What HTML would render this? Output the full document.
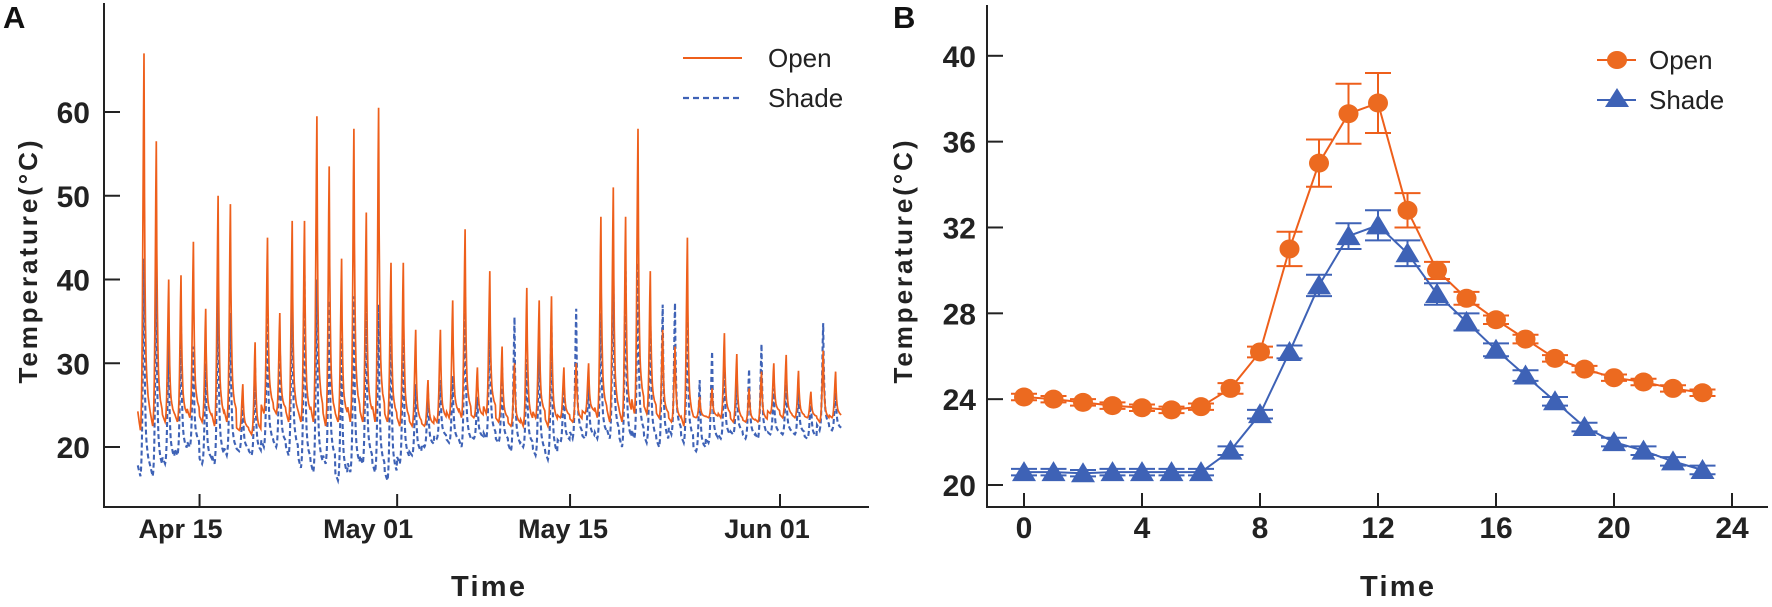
<!DOCTYPE html>
<html><head><meta charset="utf-8"><style>
html,body{margin:0;padding:0;background:#fff;}
svg{display:block;font-family:"Liberation Sans",sans-serif;}
</style></head><body>
<svg id="fig" width="1772" height="607" viewBox="0 0 1772 607" xmlns="http://www.w3.org/2000/svg">
<g id="panelA"></g>
<g id="panelB"></g>
</svg>
<script>
// ---------- Panel A data (daily extremes starting Apr 10) ----------
const aTickLabels = ["Apr 15","May 01","May 15","Jun 01"];
const aTickDays = [5,21,35,52];
const aYTicks = [20,30,40,50,60];
const openMax = [67,56.5,40,40.5,44.5,36.5,50,49,27.5,32.5,45,36,47,47,59.5,53.5,42.5,58,48,60.5,42,42,34,28,34,37.5,46,29.5,41,32,30,39,37.5,38,29.5,30,30,47.5,51,47.5,58,41,34,32,45,26,27,33.6,31.1,27,29,30,31,29.1,26.6,31.5,29];
const openMin = [22,22.5,23,23,23.5,23,22.5,23,22,21.5,24,24,23,23,23,22.5,23,23,23,23,23,22.5,22.5,22.5,23,23.5,23.5,23.5,24,23,22.5,22.5,23.5,22.5,23.5,23,24,23.5,23,23,24,24,23.5,23,22.5,23.5,23.5,23.5,23,23,23,24,23.5,23.5,23.5,23,23.5];
const shadeMax = [42.5,41.5,33,34.5,32,30,39,36,25.5,29.5,36,33,39.5,40.5,40,37.5,33,38,37,37,36,34,27.5,26.5,28,28.5,38,26,35,29.5,35.5,30.5,33,34.5,27.5,36.5,28,36,42,41,42,36.5,37,37.2,36.5,28,31.4,30,28.5,29.3,32.3,27,28,27,26,34.8,27];
const shadeMin = [16.5,16.5,18,19,20,18,18,19,19.5,19,20,20,19,17.5,17,18,16,17,18,17,16,18,19,20,21,20.5,20,21,21,20.5,19.5,20,19,18.5,20.5,21,21,21,21,20,21,20.5,20,21.5,20.5,19.5,20.5,21,21.5,21,21,21.5,21.5,21.5,21,22,22];

// ---------- Panel B data ----------
const bHours = [0,1,2,3,4,5,6,7,8,9,10,11,12,13,14,15,16,17,18,19,20,21,22,23];
const bOpen = [24.1,24.0,23.85,23.7,23.6,23.5,23.65,24.5,26.2,31.0,35.0,37.3,37.8,32.8,30.0,28.7,27.7,26.8,25.9,25.4,25.0,24.8,24.5,24.3];
const bOpenErr = [0.15,0.15,0.15,0.15,0.15,0.15,0.15,0.25,0.25,0.8,1.1,1.4,1.4,0.8,0.4,0.3,0.2,0.2,0.15,0.15,0.15,0.15,0.15,0.15];
const bShade = [20.6,20.6,20.55,20.6,20.6,20.6,20.6,21.6,23.3,26.2,29.3,31.6,32.1,30.8,28.9,27.6,26.3,25.1,23.9,22.7,22.0,21.6,21.1,20.7];
const bShadeErr = [0.15,0.15,0.15,0.15,0.15,0.15,0.15,0.2,0.2,0.3,0.5,0.6,0.7,0.6,0.5,0.4,0.3,0.25,0.2,0.2,0.2,0.2,0.2,0.2];
const bXTicks = [0,4,8,12,16,20,24];
const bYTicks = [20,24,28,32,36,40];

const NS="http://www.w3.org/2000/svg";
function mk(tag, attrs, parent){const e=document.createElementNS(NS,tag);for(const k in attrs)e.setAttribute(k,attrs[k]);parent.appendChild(e);return e;}
const ORANGE="#EE5F1B", BLUE="#3E62B6";
const labelShift=[-19,-29,-7,-13];

// ===== Panel A =====
const A=document.getElementById('panelA');
const xA=d=>137.8+d*12.35;
const yA=v=>447-(v-20)*8.375;
const shape=[0.05,0.04,0.03,0.02,0.01,0,0.02,0.07,0.16,0.32,0.55,0.82,1,0.62,0.4,0.28,0.2,0.16,0.13,0.11,0.09,0.08,0.07,0.06];
function series(mx,mn){const pts=[];for(let d=0;d<mx.length;d++){for(let h=0;h<24;h++){const v=mn[d]+(mx[d]-mn[d])*shape[h];pts.push(xA(d+h/24).toFixed(1)+","+yA(v).toFixed(1));}}return pts.join(" ");}
let e;
e=mk('polyline',{points:series(shadeMax,shadeMin),fill:"none",stroke:BLUE,"stroke-width":2.1,"stroke-dasharray":"5,3"},A);


e=mk('polyline',{points:series(openMax,openMin),fill:"none",stroke:ORANGE,"stroke-width":1.7},A);


e=mk('path',{d:"M104,3 V507 H869",fill:"none",stroke:"#222","stroke-width":2},A);


aYTicks.forEach(v=>{
  e=mk('line',{x1:104,x2:120,y1:yA(v),y2:yA(v),stroke:"#222","stroke-width":2},A);
  
  
  e=mk('text',{x:90,y:yA(v)+11,"text-anchor":"end","font-size":30,"font-weight":"bold",fill:"#222"},A);e.textContent=v;
  
  
});
aTickDays.forEach((d,i)=>{
  e=mk('line',{x1:xA(d),x2:xA(d),y1:507,y2:494,stroke:"#222","stroke-width":2},A);
  
  
  e=mk('text',{x:xA(d)+labelShift[i],y:538,"text-anchor":"middle","font-size":27,"font-weight":"bold",fill:"#222"},A);e.textContent=aTickLabels[i];
  
  
});
e=mk('text',{x:488,y:596,"text-anchor":"middle","font-size":29,"font-weight":"bold",fill:"#222",textLength:74},A);e.textContent="Time";


e=mk('text',{x:0,y:0,transform:"translate(37,262) rotate(-90)","text-anchor":"middle","font-size":26,"font-weight":"bold",fill:"#222",textLength:243},A);e.textContent="Temperature(°C)";


e=mk('text',{x:3,y:28,"font-size":31,"font-weight":"bold",fill:"#111"},A);e.textContent="A";


e=mk('line',{x1:683,x2:742,y1:58,y2:58,stroke:ORANGE,"stroke-width":2},A);


e=mk('text',{x:768,y:67,"font-size":26,fill:"#222"},A);e.textContent="Open";


e=mk('line',{x1:683,x2:742,y1:98,y2:98,stroke:BLUE,"stroke-width":2.2,"stroke-dasharray":"6,4"},A);


e=mk('text',{x:768,y:107,"font-size":26,fill:"#222"},A);e.textContent="Shade";



// ===== Panel B =====
const B=document.getElementById('panelB');
const xB=h=>1024+h*29.5;
const yB=v=>485-(v-20)*21.46;
e=mk('path',{d:"M987,5 V507 H1768",fill:"none",stroke:"#222","stroke-width":2},B);


bYTicks.forEach(v=>{
  e=mk('line',{x1:987,x2:1003,y1:yB(v),y2:yB(v),stroke:"#222","stroke-width":2},B);
  
  
  e=mk('text',{x:976,y:yB(v)+11,"text-anchor":"end","font-size":30,"font-weight":"bold",fill:"#222"},B);e.textContent=v;
  
  
});
bXTicks.forEach(h=>{
  e=mk('line',{x1:xB(h),x2:xB(h),y1:507,y2:493,stroke:"#222","stroke-width":2},B);
  
  
  e=mk('text',{x:xB(h),y:538,"text-anchor":"middle","font-size":30,"font-weight":"bold",fill:"#222"},B);e.textContent=h;
  
  
});
e=mk('text',{x:1397,y:596,"text-anchor":"middle","font-size":29,"font-weight":"bold",fill:"#222",textLength:74},B);e.textContent="Time";


e=mk('text',{x:0,y:0,transform:"translate(912,262) rotate(-90)","text-anchor":"middle","font-size":26,"font-weight":"bold",fill:"#222",textLength:243},B);e.textContent="Temperature(°C)";


e=mk('text',{x:893,y:28,"font-size":31,"font-weight":"bold",fill:"#111"},B);e.textContent="B";



function drawSeries(vals,errs,color,kind,name){
  e=mk('polyline',{points:bHours.map((h,i)=>xB(h)+","+yB(vals[i])).join(" "),fill:"none",stroke:color,"stroke-width":2},B);
  
  
  bHours.forEach((h,i)=>{
    const x=xB(h),yt=yB(vals[i]+errs[i]),yb=yB(vals[i]-errs[i]);
    e=mk('path',{d:`M${x},${yt}V${yb}M${x-13},${yt}H${x+13}M${x-13},${yb}H${x+13}`,fill:"none",stroke:color,"stroke-width":2},B);
    
    
    const y=yB(vals[i]);
    if(kind==='circle'){e=mk('ellipse',{cx:x,cy:y,rx:10,ry:9.5,fill:"#EC6A20"},B);}
    else{e=mk('polygon',{points:`${x-12},${y+9} ${x+12},${y+9} ${x},${y-11}`,fill:color},B);}
    
    
  });
}
drawSeries(bOpen,bOpenErr,ORANGE,'circle','open');
drawSeries(bShade,bShadeErr,BLUE,'tri','shade');

e=mk('line',{x1:1597,x2:1636,y1:60,y2:60,stroke:ORANGE,"stroke-width":2},B);


e=mk('ellipse',{cx:1617,cy:60,rx:10,ry:9,fill:"#EC6A20"},B);


e=mk('text',{x:1649,y:69,"font-size":26,fill:"#222"},B);e.textContent="Open";


e=mk('line',{x1:1597,x2:1636,y1:100,y2:100,stroke:BLUE,"stroke-width":2},B);


e=mk('polygon',{points:"1605,107 1629,107 1617,88",fill:BLUE},B);


e=mk('text',{x:1649,y:109,"font-size":26,fill:"#222"},B);e.textContent="Shade";


</script>
</body></html>
